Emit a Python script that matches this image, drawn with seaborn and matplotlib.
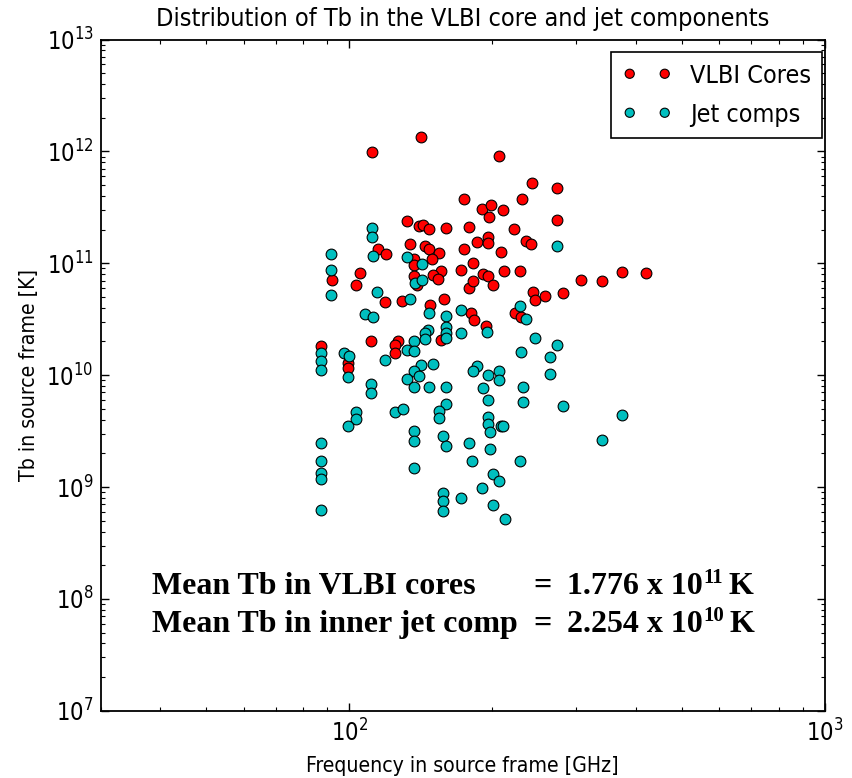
import matplotlib
matplotlib.use("Agg")
import matplotlib.pyplot as plt
import pandas as pd
import seaborn as sns
from matplotlib import font_manager
from matplotlib.ticker import LogLocator, NullFormatter

# ---------------- data ----------------
core_freq = [141.3, 111.6, 174.3, 132.0, 140.1, 143.1, 147.3, 159.7, 178.8, 134.0,
             144.4, 147.3, 154.4, 149.0, 174.0, 114.9, 119.4, 137.0, 136.8, 155.9,
             150.2, 153.4, 171.7, 136.6, 138.8, 105.5, 103.4, 91.8, 178.2, 118.9,
             129.2, 147.8, 157.9, 180.0, 155.9, 111.1, 126.4, 124.8, 124.9, 87.3,
             99.5, 99.5, 206.4, 241.8, 273.7, 231.1, 190.4, 198.6, 197.0, 210.1,
             273.7, 222.3, 185.8, 196.0, 195.7, 235.2, 241.3, 208.1, 182.3, 191.0,
             195.4, 211.7, 228.8, 182.3, 200.2, 307.4, 340.3, 374.9, 420.0, 243.3,
             245.3, 257.5, 280.9, 223.0, 229.9, 182.9, 193.5]
core_tb = [1.34e12, 9.94e11, 3.75e11, 2.39e11, 2.15e11, 2.19e11, 2.04e11, 2.07e11, 2.10e11, 1.48e11,
           1.43e11, 1.33e11, 1.23e11, 1.09e11, 1.33e11, 1.35e11, 1.20e11, 1.09e11, 9.60e10, 8.59e10,
           7.86e10, 7.29e10, 8.71e10, 7.70e10, 6.40e10, 8.14e10, 6.40e10, 7.09e10, 5.98e10, 4.48e10,
           4.60e10, 4.21e10, 4.83e10, 3.57e10, 2.08e10, 2.03e10, 2.01e10, 1.85e10, 1.59e10, 1.82e10,
           1.29e10, 1.15e10, 9.10e11, 5.25e11, 4.68e11, 3.75e11, 3.08e11, 3.30e11, 2.59e11, 2.98e11,
           2.45e11, 2.03e11, 1.56e11, 1.71e11, 1.53e11, 1.59e11, 1.48e11, 1.26e11, 1.00e11, 8.02e10,
           7.75e10, 8.53e10, 8.59e10, 6.95e10, 6.44e10, 7.14e10, 6.95e10, 8.31e10, 8.19e10, 5.57e10,
           4.70e10, 5.10e10, 5.43e10, 3.62e10, 3.33e10, 3.11e10, 2.77e10]

jet_freq = [111.8, 111.8, 91.7, 112.1, 132.0, 91.7, 91.7, 142.4, 137.2, 142.4,
            114.5, 134.4, 108.0, 112.0, 147.1, 159.7, 171.7, 159.7, 159.7, 171.7,
            146.6, 144.2, 144.2, 159.5, 137.0, 132.0, 137.0, 87.3, 87.3, 87.3,
            97.3, 99.9, 99.5, 119.1, 141.5, 137.0, 139.9, 132.0, 137.0, 147.1,
            159.5, 150.0, 111.2, 111.2, 103.3, 103.3, 99.5, 124.6, 129.4, 159.5,
            154.6, 154.6, 137.0, 137.0, 157.6, 159.5, 178.8, 87.3, 87.3, 87.3,
            87.3, 137.0, 181.1, 157.6, 157.6, 157.6, 171.7, 87.3, 273.7, 228.8,
            235.2, 194.5, 245.3, 273.7, 263.8, 229.3, 263.8, 185.8, 182.3, 196.0,
            206.4, 206.4, 191.0, 231.5, 196.0, 231.5, 280.9, 374.9, 340.3, 196.0,
            196.0, 197.3, 208.1, 210.1, 197.3, 228.8, 200.2, 206.4, 190.4, 200.2,
            212.1]
jet_tb = [2.08e11, 1.73e11, 1.20e11, 1.155e11, 1.146e11, 8.71e10, 5.21e10, 9.80e10, 6.71e10, 7.05e10,
          5.51e10, 4.77e10, 3.52e10, 3.29e10, 3.57e10, 3.38e10, 3.80e10, 2.71e10, 2.37e10, 2.37e10,
          2.53e10, 2.37e10, 2.11e10, 2.16e10, 2.01e10, 1.67e10, 1.66e10, 1.59e10, 1.33e10, 1.12e10,
          1.57e10, 1.48e10, 9.63e9, 1.37e10, 1.22e10, 1.10e10, 9.78e9, 9.19e9, 7.89e9, 7.80e9,
          7.89e9, 1.25e10, 8.35e9, 6.89e9, 4.66e9, 4.09e9, 3.52e9, 4.66e9, 5.02e9, 5.53e9,
          4.79e9, 4.12e9, 3.19e9, 2.57e9, 2.86e9, 2.33e9, 2.46e9, 2.46e9, 1.70e9, 1.345e9,
          1.17e9, 1.48e9, 1.70e9, 8.91e8, 7.56e8, 6.08e8, 8.04e8, 6.24e8, 1.44e11, 4.18e10,
          3.16e10, 2.42e10, 2.14e10, 1.86e10, 1.46e10, 1.60e10, 1.025e10, 1.20e10, 1.10e10, 1.01e10,
          1.08e10, 9.12e9, 7.64e9, 7.80e9, 6.00e9, 5.76e9, 5.34e9, 4.41e9, 2.65e9, 4.26e9,
          3.66e9, 3.13e9, 3.54e9, 3.54e9, 2.19e9, 1.71e9, 1.30e9, 1.13e9, 9.88e8, 6.88e8,
          5.19e8]

x_major_ticks = [1e2, 1e3]
y_major_ticks = [1e7, 1e8, 1e9, 1e10, 1e11, 1e12, 1e13]
series_labels = ["VLBI Cores", "Jet comps"]
series_colors = ["#ff0000", "#00bfbf"]
title_text = "Distribution of Tb in the VLBI core and jet components"
xlabel_text = "Frequency in source frame [GHz]"
ylabel_text = "Tb in source frame [K]"
mean_names = ["Mean Tb in VLBI cores", "Mean Tb in inner jet comp"]
mean_values = ["1.776", "2.254"]
mean_exps = ["11", "10"]

# ---------------- style ----------------
avail = {f.name for f in font_manager.fontManager.ttflist}
if "Liberation Sans Narrow" in avail:
    plt.rcParams["font.family"] = ["Liberation Sans Narrow", "DejaVu Sans"]
else:
    plt.rcParams["font.family"] = ["DejaVu Sans"]
    plt.rcParams["font.stretch"] = "condensed"

plt.rcParams.update({
    "xtick.direction": "in", "ytick.direction": "in",
    "xtick.top": True, "ytick.right": True,
    "xtick.major.size": 6, "ytick.major.size": 6,
    "xtick.minor.size": 3, "ytick.minor.size": 3,
    "xtick.major.width": 1.0, "ytick.major.width": 1.0,
    "xtick.minor.width": 0.8, "ytick.minor.width": 0.8,
    "axes.linewidth": 1.3,
    "xtick.major.pad": 6, "ytick.major.pad": 5,
})

W, H = 852, 778
fig = plt.figure(figsize=(W / 100, H / 100), dpi=100)
ax = fig.add_axes([100.5 / W, 1 - 710.8 / H, (825 - 100.5) / W, (710.8 - 39.5) / H])

df_core = pd.DataFrame({"freq": core_freq, "tb": core_tb})
df_jet = pd.DataFrame({"freq": jet_freq, "tb": jet_tb})

sns.scatterplot(data=df_core, x="freq", y="tb", color=series_colors[0], edgecolor="black",
                linewidth=0.8, s=60, ax=ax, label=series_labels[0], zorder=3)
sns.scatterplot(data=df_jet, x="freq", y="tb", color=series_colors[1], edgecolor="black",
                linewidth=0.8, s=60, ax=ax, label=series_labels[1], zorder=4)

ax.set_xscale("log")
ax.set_yscale("log")
ax.set_xticks(x_major_ticks)
ax.set_yticks(y_major_ticks)
ax.xaxis.set_minor_locator(LogLocator(base=10, subs=range(2, 10), numticks=20))
ax.yaxis.set_minor_locator(LogLocator(base=10, subs=range(2, 10), numticks=20))
ax.xaxis.set_minor_formatter(NullFormatter())
ax.yaxis.set_minor_formatter(NullFormatter())
ax.set_xlim(30, 1000)
ax.set_ylim(1e7, 1e13)
ax.tick_params(axis="both", which="major", labelsize=17)
ax.grid(False)

ax.set_title(title_text, fontsize=18.1, pad=10)
ax.set_xlabel(xlabel_text, fontsize=15.2, labelpad=7)
ax.set_ylabel(ylabel_text, fontsize=15.2, labelpad=5)

leg = ax.legend(loc="upper right", bbox_to_anchor=(0.996, 0.981), borderaxespad=0,
                scatterpoints=2, scatteryoffsets=[0.5], fontsize=18, frameon=True,
                fancybox=False, edgecolor="black", framealpha=1, handlelength=2.0,
                handletextpad=0.7, borderpad=0.45, labelspacing=0.6, markerscale=0.85)
leg.get_frame().set_linewidth(1.2)

# annotation text
serif = dict(family=["Liberation Serif", "DejaVu Serif"], weight="bold")
fig.canvas.draw()
renderer = fig.canvas.get_renderer()
baselines = [594, 632]
for i in range(2):
    yb = 1 - baselines[i] / H
    fig.text(152 / W, yb, mean_names[i], va="baseline", ha="left", fontsize=23, **serif)
    fig.text(533 / W, yb, "=", va="baseline", ha="left", fontsize=23, **serif)
    t = fig.text(567 / W, yb, mean_values[i] + " x 10", va="baseline", ha="left",
                 fontsize=23, **serif)
    bb = t.get_window_extent(renderer=renderer)
    e = fig.text((bb.x1 + 1) / W, yb + 11 / H, mean_exps[i], va="baseline", ha="left",
                 fontsize=15, **serif)
    bb2 = e.get_window_extent(renderer=renderer)
    fig.text((bb2.x1 + 5) / W, yb, "K", va="baseline", ha="left", fontsize=23, **serif)

fig.savefig("out.png", dpi=100)
